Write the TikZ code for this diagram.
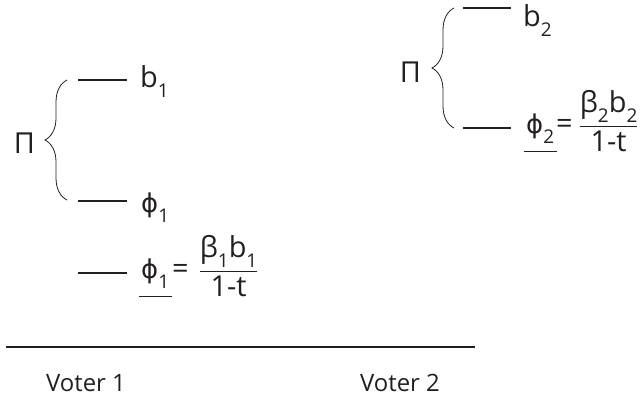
\documentclass[tikz,border=0pt]{standalone}
\usepackage{amsmath}
\usepackage{fontspec}
\setmainfont{Open Sans}
\newfontfamily\grec{DejaVu Sans}
\usepackage{tikz}
\usetikzlibrary{decorations.pathreplacing}
\definecolor{encre}{RGB}{35,31,32}
\newcommand{\ind}[1]{\raisebox{-0.35em}{\fontsize{19}{19}\selectfont #1}}
\newcommand{\phisans}{{\grec\fontsize{26}{30}\selectfont ϕ}}
\newsavebox{\boitesoul}
\newcommand{\souligne}[1]{\sbox{\boitesoul}{#1}\rlap{\kern-2bp\rule[-19bp]{\dimexpr\wd\boitesoul+5bp\relax}{1.3bp}}\usebox{\boitesoul}}
\newcommand{\fracsans}[2]{\ensuremath{\genfrac{}{}{1.3bp}{0}{\mbox{#1}}{\mbox{#2}}}}

\begin{document}
\begin{tikzpicture}[x=1bp, y=1bp, text=encre, font=\fontsize{29}{33}\selectfont,
    trait/.style={draw=encre, line width=1.8bp},
    accolade/.style={draw=encre, line width=0.8bp, decorate, decoration={brace, amplitude=22bp}},
    etiq/.style={inner sep=0pt, anchor=base west}]
    \useasboundingbox (0,0) rectangle (641,-406);
    % électeur 1
    \node[inner sep=0pt, anchor=base] (pi1) at (24.5,-153) {Π};
    \draw[accolade] (67,-200) -- (67,-80);
    \draw[trait] (78,-80) -- (127,-80);
    \draw[trait] (78,-201) -- (127,-201);
    \draw[trait] (78,-273) -- (127,-273);
    \node[etiq] (b1) at (140,-87) {b\ind{1}};
    \node[etiq] (phi1) at (141,-212) {\phisans\ind{1}};
    \node[etiq] (eq1) at (141,-278) {\souligne{\phisans\ind{1}}\kern3bp=\kern10bp\fracsans{β\ind{1}b\ind{1}}{1-t}};
    % électeur 2
    \node[inner sep=0pt, anchor=base] (pi2) at (410.5,-82) {Π};
    \draw[accolade] (454,-128) -- (454,-8);
    \draw[trait] (463,-8) -- (511,-8);
    \draw[trait] (463,-128) -- (511,-128);
    \node[etiq] (b2) at (523,-26) {b\ind{2}};
    \node[etiq] (eq2) at (526,-133) {\souligne{\phisans\ind{2}}\kern2bp=\kern6bp\fracsans{β\ind{2}b\ind{2}}{1-t}};
    % axe
    \draw[trait] (6,-347) -- (475,-347);
    \node[inner sep=0pt, anchor=base, font=\fontsize{24}{28}\selectfont] (v1) at (86,-391) {Voter 1};
    \node[inner sep=0pt, anchor=base, font=\fontsize{24}{28}\selectfont] (v2) at (400,-391) {Voter 2};
\end{tikzpicture}
\end{document}
